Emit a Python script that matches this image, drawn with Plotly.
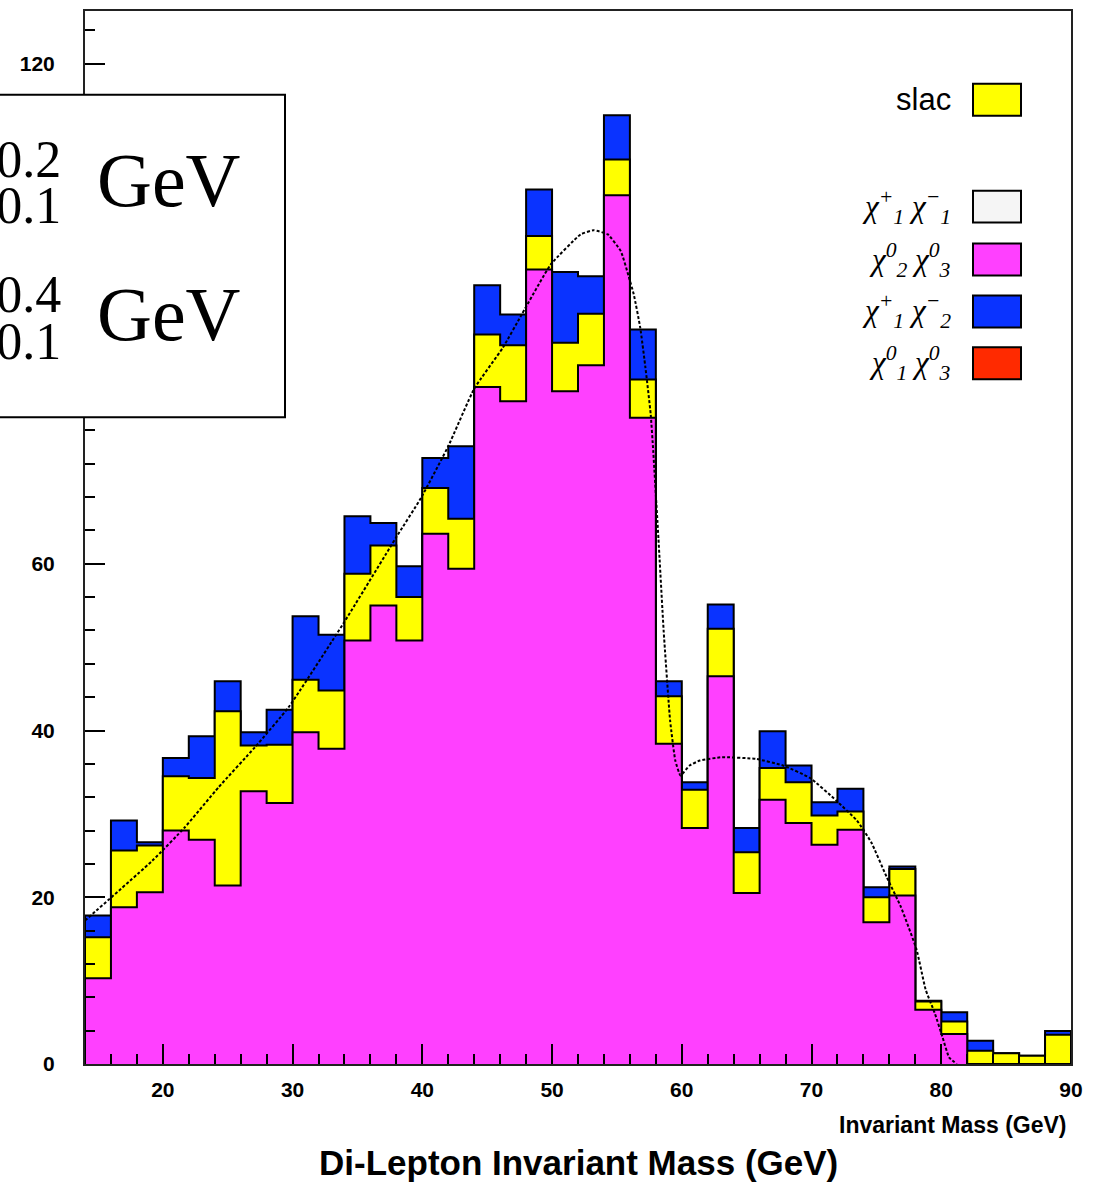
import numpy as np
import plotly.graph_objects as go

# 2 GeV bins from 14 to 90 GeV
bin_edges = list(range(14, 92, 2))

# per-process contributions (events / bin)
chi02_chi03 = [10.3, 18.8, 20.6, 28.0, 26.9, 21.4, 32.7, 31.3, 39.8, 37.8,
               50.8, 55.0, 50.8, 63.6, 59.4, 81.2, 79.5, 95.3, 80.7, 83.8,
               104.2, 77.5, 38.4, 28.3, 46.5, 20.5, 31.7, 28.9, 26.3, 28.1,
               17.0, 20.2, 6.5, 3.6, 0.0, 0.0, 0.0, 0.0]
slac = [4.9, 6.8, 5.6, 6.5, 7.4, 20.9, 5.5, 7.0, 6.3, 7.0,
        8.0, 7.2, 5.2, 5.5, 6.0, 6.3, 6.7, 4.0, 5.8, 6.2,
        4.3, 4.6, 5.7, 4.6, 5.7, 4.9, 3.8, 4.9, 3.5, 2.2,
        3.0, 3.2, 1.0, 1.5, 1.6, 1.3, 1.0, 3.5]
chi1p_chi2m = [2.6, 3.6, 0.4, 2.2, 5.0, 3.6, 1.6, 4.2, 7.6, 6.7,
               6.9, 2.7, 3.7, 3.6, 8.7, 5.9, 3.7, 5.6, 8.5, 4.5,
               5.3, 6.0, 1.8, 0.9, 2.9, 2.9, 4.4, 2.0, 1.6, 2.7,
               1.2, 0.3, 0.1, 1.1, 1.2, 0.0, 0.0, 0.45]

# fitted shape overlaid on the stack
fit_x = [14.0, 19.2, 21.7, 24.3, 27.1, 29.7, 33.9, 38.0, 39.9, 42.0,
         44.0, 46.2, 47.7, 49.9, 52.2, 53.2, 54.3, 55.3, 55.9, 56.3,
         56.8, 57.2, 57.6, 57.8, 58.2, 58.6, 59.1, 59.5, 59.9, 60.6,
         61.4, 63.1, 65.7, 67.8, 69.9, 71.9, 73.5, 74.6, 75.8, 76.9,
         78.1, 78.8, 79.5, 80.1, 80.6, 81.2]
fit_y = [17.2, 24.4, 28.4, 33.2, 38.0, 42.8, 52.8, 63.2, 67.9, 74.1,
         81.0, 85.9, 90.0, 95.9, 99.5, 100.0, 99.5, 97.5, 94.5, 92.3,
         88.3, 83.5, 78.0, 73.5, 63.0, 52.0, 41.2, 36.4, 34.6, 35.8,
         36.4, 36.8, 36.6, 35.8, 34.3, 31.6, 29.2, 26.6, 22.4, 18.8,
         13.7, 8.9, 6.1, 3.2, 0.8, 0.0]

# y tick labels (80 and 100 sit under the result box)
y_tickvals = [0, 20, 40, 60, 80, 100, 120]
y_ticktext = ["0", "20", "40", "60", "", "", "120"]

MAGENTA = "#FF40FF"
YELLOW = "#FFFF00"
BLUE = "#0A33FF"
RED = "#FF2A00"
WHITE = "#F5F5F5"

mag = np.array(chi02_chi03)
lvl_yellow = mag + np.array(slac)
lvl_total = lvl_yellow + np.array(chi1p_chi2m)


def step_outline(values):
    """Closed step outline of a histogram (for 'hv' lines)."""
    xs = [bin_edges[0]] + bin_edges[:-1] + [bin_edges[-1]]
    ys = [0.0] + list(values) + [0.0]
    return xs, ys


fig = go.Figure()
for vals, col, name in [(lvl_total, BLUE, "χ+1 χ-2"),
                        (lvl_yellow, YELLOW, "slac"),
                        (mag, MAGENTA, "χ02 χ03")]:
    xs, ys = step_outline(vals)
    fig.add_trace(go.Scatter(x=xs, y=ys, mode="lines", name=name,
                             line=dict(shape="hv", color="black", width=2),
                             fill="tozeroy", fillcolor=col,
                             hoverinfo="skip", showlegend=False))

fig.add_trace(go.Scatter(x=fit_x, y=fit_y, mode="lines", showlegend=False,
                         line=dict(color="black", width=2, dash="3px,2px",
                                   shape="spline", smoothing=0.4)))

PL, PR, PT, PB = 85, 1071, 9, 1064
W, H = 1097, 1182
pw, ph = PR - PL, PB - PT


def px(xp):
    return (xp - PL) / pw


def py(yp):
    return (PB - yp) / ph


tickfont = dict(family="Liberation Sans", size=21, color="black", weight="bold")

fig.update_layout(
    width=W, height=H,
    margin=dict(l=PL, r=W - PR, t=PT, b=H - PB),
    paper_bgcolor="white", plot_bgcolor="white",
    xaxis=dict(range=[14, 90], tickvals=list(range(20, 100, 10)),
               ticks="inside", ticklen=20, tickwidth=2, tickcolor="black",
               minor=dict(ticks="inside", dtick=2, ticklen=10, tickwidth=1.5,
                          tickcolor="black", showgrid=False),
               showline=True, mirror=True, linecolor="#222", linewidth=2,
               showgrid=False, zeroline=False, tickfont=tickfont,
               ticklabelstandoff=6),
    yaxis=dict(range=[0, 126.3], tickvals=y_tickvals, ticktext=y_ticktext,
               ticks="inside", ticklen=20, tickwidth=2, tickcolor="black",
               minor=dict(ticks="inside", dtick=4, ticklen=10, tickwidth=1.5,
                          tickcolor="black", showgrid=False),
               showline=True, mirror=True, linecolor="#222", linewidth=2,
               showgrid=False, zeroline=False, tickfont=tickfont,
               ticklabelstandoff=24),
)

annotations = []
shapes = []

# axis captions
annotations.append(dict(text="Invariant Mass (GeV)", xref="paper", yref="paper",
                        x=px(1069), y=py(1125), xanchor="right", yanchor="middle",
                        showarrow=False,
                        font=dict(family="Liberation Sans", size=23, color="black",
                                  weight="bold")))
annotations.append(dict(text="Di-Lepton Invariant Mass (GeV)", xref="paper",
                        yref="paper", x=px(578), y=py(1163), xanchor="center",
                        yanchor="middle", showarrow=False,
                        font=dict(family="Liberation Sans", size=35, color="black",
                                  weight="bold")))

# legend block
legend_rows = [("slac", YELLOW, 98),
               ("χ<sup>+</sup><sub>1</sub> χ<sup>−</sup><sub>1</sub>", WHITE, 205),
               ("χ<sup>0</sup><sub>2</sub> χ<sup>0</sup><sub>3</sub>", MAGENTA, 258),
               ("χ<sup>+</sup><sub>1</sub> χ<sup>−</sup><sub>2</sub>", BLUE, 310),
               ("χ<sup>0</sup><sub>1</sub> χ<sup>0</sup><sub>3</sub>", RED, 362)]
for label, col, yc in legend_rows:
    shapes.append(dict(type="rect", xref="paper", yref="paper",
                       x0=px(973), x1=px(1021), y0=py(yc + 16), y1=py(yc - 16),
                       fillcolor=col, line=dict(color="black", width=2),
                       layer="above"))
    if label == "slac":
        fnt = dict(family="Liberation Sans", size=31, color="black")
    else:
        fnt = dict(family="Liberation Serif", size=31, color="black",
                   style="italic")
    annotations.append(dict(text=label, xref="paper", yref="paper",
                            x=px(953), y=py(yc), xanchor="right", yanchor="middle",
                            showarrow=False, font=fnt))

# mass result box
shapes.append(dict(type="rect", xref="paper", yref="paper",
                   x0=px(-40), x1=px(285), y0=py(416), y1=py(93),
                   fillcolor="white", line=dict(color="black", width=2),
                   layer="above"))
serif = "Liberation Serif"
for up, dn, yc_up, yc_dn, yc_gev in [("+0.2", "−0.1", 158, 204, 178),
                                      ("+0.4", "−0.1", 293, 340, 313)]:
    annotations.append(dict(text=up, xref="paper", yref="paper", x=px(63),
                            y=py(yc_up), xanchor="right", yanchor="middle",
                            showarrow=False,
                            font=dict(family=serif, size=52, color="black")))
    annotations.append(dict(text=dn, xref="paper", yref="paper", x=px(63),
                            y=py(yc_dn), xanchor="right", yanchor="middle",
                            showarrow=False,
                            font=dict(family=serif, size=52, color="black")))
    annotations.append(dict(text="GeV", xref="paper", yref="paper", x=px(95),
                            y=py(yc_gev), xanchor="left", yanchor="middle",
                            showarrow=False,
                            font=dict(family=serif, size=76, color="black")))

fig.update_layout(annotations=annotations, shapes=shapes)
fig.write_html("out.html")
